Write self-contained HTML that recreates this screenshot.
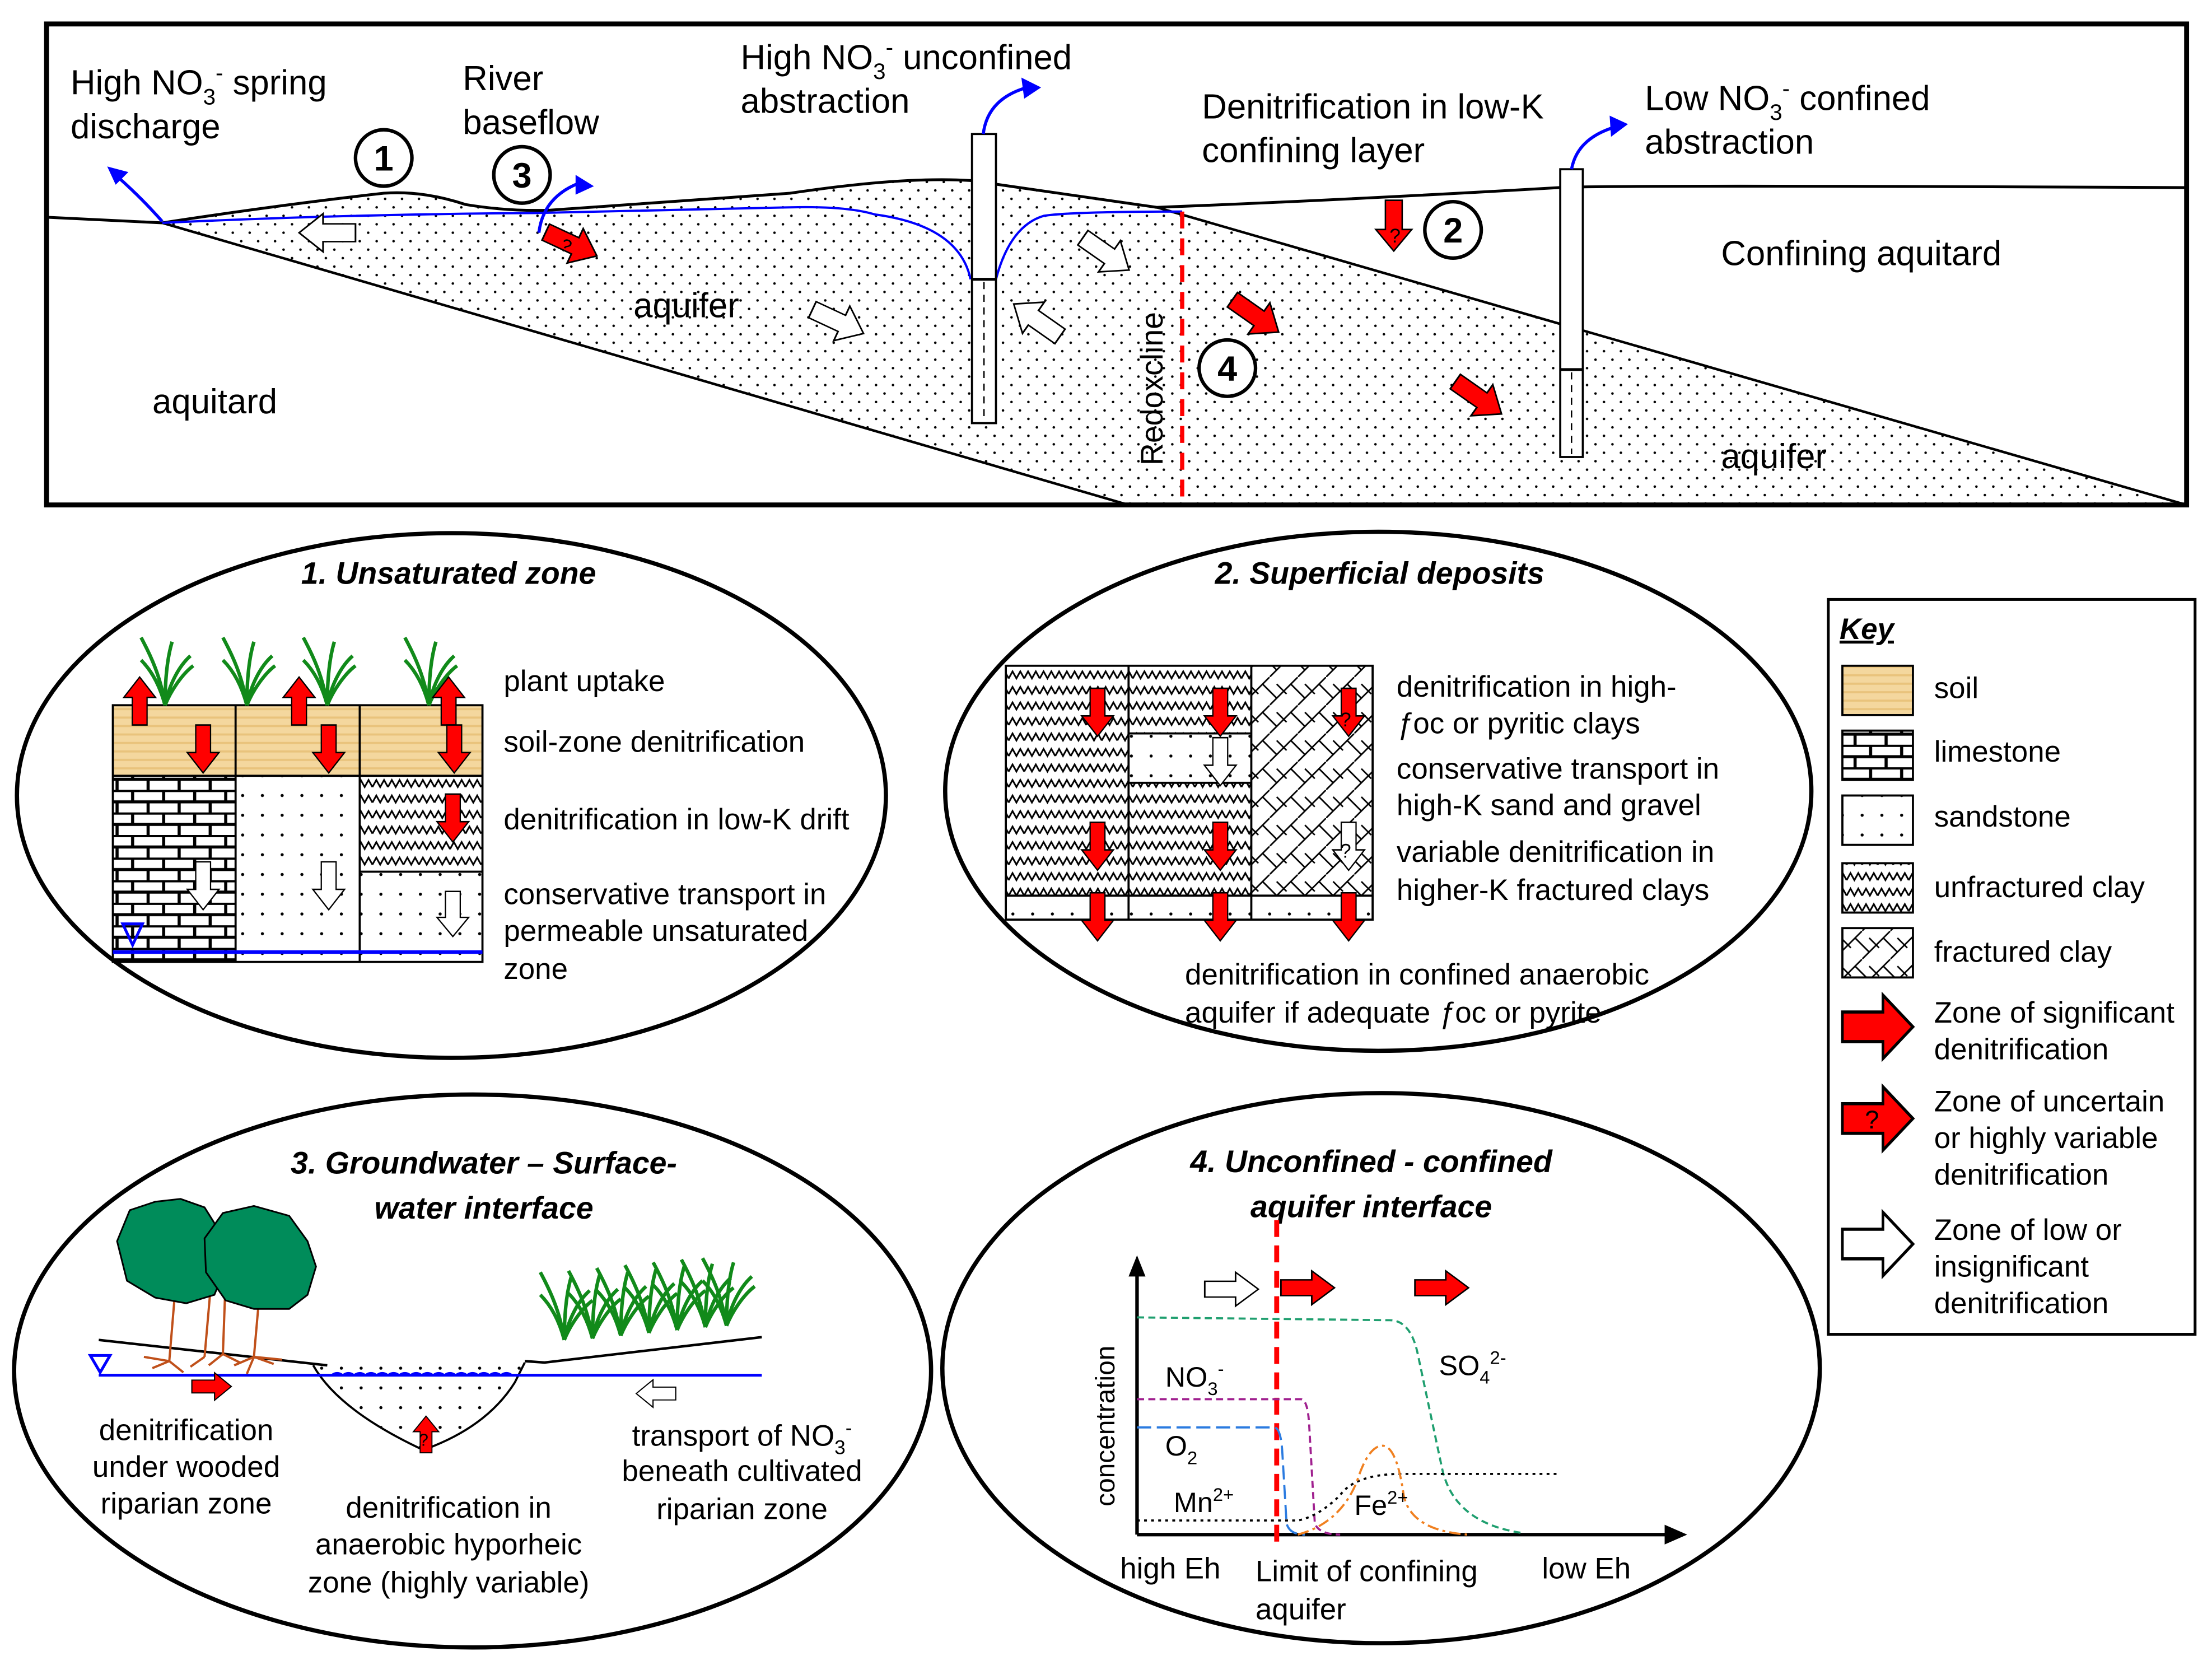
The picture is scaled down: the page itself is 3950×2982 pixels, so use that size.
<!DOCTYPE html>
<html><head><meta charset="utf-8">
<style>
html,body{margin:0;padding:0;background:#fff;}
svg{display:block;}
text{font-family:"Liberation Sans",Arial,sans-serif;fill:#000;}
</style></head><body>
<svg width="3950" height="2982" viewBox="0 0 1568 1184" preserveAspectRatio="none" xmlns="http://www.w3.org/2000/svg">
<defs>
<pattern id="dots" width="12" height="12" patternUnits="userSpaceOnUse"><rect width="12" height="12" fill="#fff"/><circle cx="3" cy="3" r="0.9" fill="#000"/><circle cx="9" cy="9" r="0.9" fill="#000"/></pattern>
<pattern id="dotsL" width="14" height="14" patternUnits="userSpaceOnUse"><rect width="14" height="14" fill="#fff"/><circle cx="4" cy="4" r="1.1" fill="#000"/></pattern>
<pattern id="brick" width="22" height="16" patternUnits="userSpaceOnUse"><rect width="22" height="16" fill="#fff"/><path d="M0,0.5H22M0,8.5H22M6,0V8M17,8V16" stroke="#000" stroke-width="2.2"/></pattern>
<pattern id="wave" width="11" height="11" patternUnits="userSpaceOnUse"><rect width="11" height="11" fill="#fff"/><path d="M0,8 L2.75,3 L5.5,8 L8.25,3 L11,8" fill="none" stroke="#000" stroke-width="1.2"/></pattern>
<pattern id="hatch" width="20" height="20" patternUnits="userSpaceOnUse"><rect width="20" height="20" fill="#fff"/><path d="M0,20 L20,0 M5,5 L12,12 M-5,5 L5,15 M15,5 L22,12" stroke="#000" stroke-width="1.1"/></pattern>
<pattern id="soil" width="10" height="6" patternUnits="userSpaceOnUse"><rect width="10" height="6" fill="#f4d79e"/><rect y="4" width="10" height="1.5" fill="#e9c37c"/></pattern>
<path id="ar" d="M-20,-7 H3 V-15 L20,0 L3,15 V7 H-20 Z"/>
<g id="grass" fill="none" stroke="#118a1a" stroke-width="2.5"><path d="M0,0 C-3,-20 -10,-35 -17,-48 M0,0 C0,-20 2,-35 5,-45 M0,0 C3,-15 10,-28 18,-35 M0,0 C-4,-15 -10,-25 -17,-32 M0,0 C4,-10 12,-22 20,-28"/></g>
</defs>
<rect width="1568" height="1184" fill="#fff"/>

<!-- TOP PANEL -->
<path d="M115,158 Q200,145 272,137 Q300,135 330,145 Q360,150 390,149 L560,137 Q640,125 688,128 L820,147 L1550,358 L800,358 Z" fill="url(#dots)"/>
<path d="M33,154 L115,158 Q200,145 272,137 Q300,135 330,145 Q360,150 390,149 L560,137 Q640,125 688,128 L820,147 Q950,142 1105,133 Q1140,131 1550,133" fill="none" stroke="#000" stroke-width="2"/>
<path d="M115,158 L800,358" stroke="#000" stroke-width="1.8"/>
<path d="M820,147 L1550,358" stroke="#000" stroke-width="1.8"/>
<path d="M115,158 Q240,152 380,151 L560,147 Q600,146 620,152 Q680,160 688,198" fill="none" stroke="#0000ff" stroke-width="1.6"/>
<path d="M706,198 Q716,160 740,153 Q760,150 838,150" fill="none" stroke="#0000ff" stroke-width="1.6"/>
<rect x="689" y="95" width="17" height="205" fill="#fff" stroke="#000" stroke-width="1.5"/>
<line x1="689" y1="198" x2="706" y2="198" stroke="#000" stroke-width="2"/>
<line x1="697.5" y1="200" x2="697.5" y2="298" stroke="#000" stroke-dasharray="5,4" stroke-width="1"/>
<rect x="1106" y="120" width="16" height="204" fill="#fff" stroke="#000" stroke-width="1.5"/>
<line x1="1106" y1="262" x2="1122" y2="262" stroke="#000" stroke-width="2"/>
<line x1="1114" y1="264" x2="1114" y2="322" stroke="#000" stroke-dasharray="5,4" stroke-width="1"/>
<g fill="none" stroke="#0000ff" stroke-width="2.2"><path d="M115,157 Q100,140 83,125"/><path d="M382,165 Q385,140 410,130"/><path d="M697,95 Q700,70 728,62"/><path d="M1114,120 Q1118,98 1145,90"/></g>
<g fill="#0000ff"><path d="M76,118 L91,122 L82,131 Z"/><path d="M421,132 L408,124 L408,138 Z"/><path d="M738,62 L724,55 L726,70 Z"/><path d="M1154,88 L1141,82 L1142,97 Z"/></g>
<line x1="838" y1="150" x2="838" y2="358" stroke="#ff0000" stroke-width="3" stroke-dasharray="12,7"/>
<text transform="translate(824,330) rotate(-90)" font-size="22">Redoxcline</text>
<g stroke="#000" stroke-width="1.2">
<use href="#ar" fill="#fff" transform="translate(232,165) rotate(180) scale(1,0.9)"/>
<use href="#ar" fill="#ff0000" transform="translate(405,173) rotate(25) scale(1,0.9)"/>
<use href="#ar" fill="#fff" transform="translate(594,228) rotate(25) scale(1,0.9)"/>
<use href="#ar" fill="#fff" transform="translate(735,227) rotate(-145) scale(1,0.9)"/>
<use href="#ar" fill="#fff" transform="translate(784,180) rotate(35) scale(1,0.9)"/>
<use href="#ar" fill="#ff0000" transform="translate(890,224) rotate(35) scale(1,0.9)"/>
<use href="#ar" fill="#ff0000" transform="translate(1048,282) rotate(35) scale(1,0.9)"/>
<use href="#ar" fill="#ff0000" transform="translate(988,160) rotate(90) scale(0.9,0.85)"/>
</g>
<text x="398" y="178" font-size="13" transform="rotate(25 400 173)">?</text>
<text x="985" y="172" font-size="14">?</text>
<g fill="#fff" stroke="#000" stroke-width="2.5"><circle cx="272" cy="112" r="20"/><circle cx="370" cy="124" r="20"/><circle cx="1030" cy="163" r="20"/><circle cx="870" cy="261" r="20"/></g>
<g font-size="25" font-weight="bold" text-anchor="middle"><text x="272" y="121">1</text><text x="370" y="133">3</text><text x="1030" y="172">2</text><text x="870" y="270">4</text></g>
<g font-size="24.5">
<text x="50" y="67">High NO<tspan font-size="16" dy="7">3</tspan><tspan font-size="16" dy="-17">-</tspan><tspan dy="10"> spring</tspan></text>
<text x="50" y="98">discharge</text>
<text x="328" y="64">River</text><text x="328" y="95">baseflow</text>
<text x="525" y="49">High NO<tspan font-size="16" dy="7">3</tspan><tspan font-size="16" dy="-17">-</tspan><tspan dy="10"> unconfined</tspan></text>
<text x="525" y="80">abstraction</text>
<text x="852" y="84">Denitrification in low-K</text><text x="852" y="115">confining layer</text>
<text x="1166" y="78">Low NO<tspan font-size="16" dy="7">3</tspan><tspan font-size="16" dy="-17">-</tspan><tspan dy="10"> confined</tspan></text>
<text x="1166" y="109">abstraction</text>
<text x="1220" y="188">Confining aquitard</text>
<text x="449" y="225">aquifer</text>
<text x="108" y="293">aquitard</text>
<text x="1220" y="332">aquifer</text>
</g>
<rect x="33" y="17" width="1517" height="341" fill="none" stroke="#000" stroke-width="3.5"/>

<!-- ELLIPSES -->
<g fill="none" stroke="#000" stroke-width="3"><ellipse cx="320" cy="564" rx="308" ry="186"/><ellipse cx="977" cy="561" rx="307" ry="184"/><ellipse cx="335" cy="972" rx="325" ry="196"/><ellipse cx="979" cy="970" rx="311" ry="195"/></g>
<g font-size="22" font-weight="bold" font-style="italic" text-anchor="middle">
<text x="318" y="414">1. Unsaturated zone</text>
<text x="978" y="414">2. Superficial deposits</text>
<text x="343" y="832">3. Groundwater – Surface-</text><text x="343" y="864">water interface</text>
<text x="972" y="831">4. Unconfined - confined</text><text x="972" y="863">aquifer interface</text>
</g>

<!-- PANEL 1 -->
<rect x="80" y="500" width="262" height="50" fill="url(#soil)"/>
<rect x="80" y="550" width="87" height="132" fill="url(#brick)"/>
<rect x="167" y="550" width="88" height="132" fill="url(#dotsL)"/>
<rect x="255" y="550" width="87" height="68" fill="url(#wave)"/>
<rect x="255" y="618" width="87" height="64" fill="url(#dotsL)"/>
<g fill="none" stroke="#000" stroke-width="1.5"><rect x="80" y="500" width="262" height="182"/><path d="M80,550H342M167,500V682M255,500V682M255,618H342"/></g>
<line x1="80" y1="675" x2="342" y2="675" stroke="#0000ff" stroke-width="2.5"/>
<path d="M87,655 L101,655 L94,670 Z" fill="none" stroke="#0000ff" stroke-width="2"/>
<use href="#grass" transform="translate(117,500)"/><use href="#grass" transform="translate(175,500)"/><use href="#grass" transform="translate(232,500)"/><use href="#grass" transform="translate(304,500)"/>
<g stroke="#000" stroke-width="1.2">
<use href="#ar" fill="#ff0000" transform="translate(99,497) rotate(-90) scale(0.85,0.75)"/>
<use href="#ar" fill="#ff0000" transform="translate(212,497) rotate(-90) scale(0.85,0.75)"/>
<use href="#ar" fill="#ff0000" transform="translate(318,497) rotate(-90) scale(0.85,0.75)"/>
<use href="#ar" fill="#ff0000" transform="translate(144,531) rotate(90) scale(0.85,0.75)"/>
<use href="#ar" fill="#ff0000" transform="translate(233,531) rotate(90) scale(0.85,0.75)"/>
<use href="#ar" fill="#ff0000" transform="translate(322,531) rotate(90) scale(0.85,0.75)"/>
<use href="#ar" fill="#ff0000" transform="translate(321,580) rotate(90) scale(0.85,0.75)"/>
<use href="#ar" fill="#fff" transform="translate(144,628) rotate(90) scale(0.85,0.75)"/>
<use href="#ar" fill="#fff" transform="translate(233,628) rotate(90) scale(0.85,0.75)"/>
<use href="#ar" fill="#fff" transform="translate(321,648) rotate(90) scale(0.8,0.75)"/>
</g>
<g font-size="21"><text x="357" y="490">plant uptake</text><text x="357" y="533">soil-zone denitrification</text><text x="357" y="588">denitrification in low-K drift</text><text x="357" y="641">conservative transport in</text><text x="357" y="667">permeable unsaturated</text><text x="357" y="694">zone</text></g>

<!-- PANEL 2 -->
<rect x="713" y="472" width="87" height="163" fill="url(#wave)"/>
<rect x="800" y="472" width="87" height="48" fill="url(#wave)"/>
<rect x="800" y="520" width="87" height="35" fill="url(#dotsL)"/>
<rect x="800" y="555" width="87" height="80" fill="url(#wave)"/>
<rect x="887" y="472" width="86" height="163" fill="url(#hatch)"/>
<rect x="713" y="635" width="260" height="17" fill="url(#dotsL)"/>
<g fill="none" stroke="#000" stroke-width="1.5"><rect x="713" y="472" width="260" height="180"/><path d="M800,472V652M887,472V652M713,635H973M800,520H887M800,555H887"/></g>
<g stroke="#000" stroke-width="1.2">
<use href="#ar" fill="#ff0000" transform="translate(778,505) rotate(90) scale(0.85,0.75)"/>
<use href="#ar" fill="#ff0000" transform="translate(865,505) rotate(90) scale(0.85,0.75)"/>
<use href="#ar" fill="#ff0000" transform="translate(956,505) rotate(90) scale(0.85,0.75)"/>
<use href="#ar" fill="#fff" transform="translate(865,540) rotate(90) scale(0.85,0.75)"/>
<use href="#ar" fill="#ff0000" transform="translate(778,600) rotate(90) scale(0.85,0.75)"/>
<use href="#ar" fill="#ff0000" transform="translate(865,600) rotate(90) scale(0.85,0.75)"/>
<use href="#ar" fill="#fff" transform="translate(956,600) rotate(90) scale(0.85,0.75)"/>
<use href="#ar" fill="#ff0000" transform="translate(778,650) rotate(90) scale(0.85,0.75)"/>
<use href="#ar" fill="#ff0000" transform="translate(865,650) rotate(90) scale(0.85,0.75)"/>
<use href="#ar" fill="#ff0000" transform="translate(956,650) rotate(90) scale(0.85,0.75)"/>
</g>
<text x="950" y="515" font-size="14">?</text><text x="950" y="608" font-size="14">?</text>
<g font-size="21"><text x="990" y="494">denitrification in high-</text><text x="990" y="520"><tspan font-style="italic">ƒ</tspan>oc or pyritic clays</text><text x="990" y="552">conservative transport in</text><text x="990" y="578">high-K sand and gravel</text><text x="990" y="611">variable denitrification in</text><text x="990" y="638">higher-K fractured clays</text><text x="840" y="698">denitrification in confined anaerobic</text><text x="840" y="725">aquifer if adequate <tspan font-style="italic">ƒ</tspan>oc or pyrite</text></g>

<!-- KEY -->
<rect x="1296" y="425" width="260" height="521" fill="#fff" stroke="#000" stroke-width="2"/>
<text x="1304" y="453" font-size="21" font-weight="bold" font-style="italic" text-decoration="underline">Key</text>
<rect x="1306" y="472" width="50" height="35" fill="url(#soil)" stroke="#000" stroke-width="1.5"/>
<rect x="1306" y="518" width="50" height="35" fill="url(#brick)" stroke="#000" stroke-width="1.5"/>
<rect x="1306" y="564" width="50" height="35" fill="url(#dotsL)" stroke="#000" stroke-width="1.5"/>
<rect x="1306" y="612" width="50" height="35" fill="url(#wave)" stroke="#000" stroke-width="1.5"/>
<rect x="1306" y="658" width="50" height="35" fill="url(#hatch)" stroke="#000" stroke-width="1.5"/>
<g stroke="#000" stroke-width="1.5">
<use href="#ar" fill="#ff0000" transform="translate(1331,728) scale(1.25,1.5)"/>
<use href="#ar" fill="#ff0000" transform="translate(1331,793) scale(1.25,1.5)"/>
<use href="#ar" fill="#fff" transform="translate(1331,882) scale(1.25,1.5)"/>
</g>
<text x="1322" y="800" font-size="18">?</text>
<g font-size="21"><text x="1371" y="495">soil</text><text x="1371" y="540">limestone</text><text x="1371" y="586">sandstone</text><text x="1371" y="636">unfractured clay</text><text x="1371" y="682">fractured clay</text><text x="1371" y="725">Zone of significant</text><text x="1371" y="751">denitrification</text><text x="1371" y="788">Zone of uncertain</text><text x="1371" y="814">or highly variable</text><text x="1371" y="840">denitrification</text><text x="1371" y="879">Zone of low or</text><text x="1371" y="905">insignificant</text><text x="1371" y="931">denitrification</text></g>

<!-- PANEL 3 -->
<path d="M222,968 Q240,1000 300,1028 Q345,1012 365,980 L372,966" fill="url(#dotsL)" stroke="#000" stroke-width="1.5"/>
<path d="M70,950 L232,968 M372,965 L386,966 L540,948" fill="none" stroke="#000" stroke-width="1.8"/>
<line x1="70" y1="975" x2="540" y2="975" stroke="#0000ff" stroke-width="2"/>
<path d="M235,975 q4,-3 8,0 q4,-3 8,0 q4,-3 8,0 q4,-3 8,0 q4,-3 8,0 q4,-3 8,0 q4,-3 8,0 q4,-3 8,0 q4,-3 8,0 q4,-3 8,0 q4,-3 8,0 q4,-3 8,0 q4,-3 8,0 q4,-3 8,0 q4,-3 8,0 q4,-3 8,0" fill="none" stroke="#0000ff" stroke-width="1.5"/>
<path d="M64,961 L78,961 L71,973 Z" fill="none" stroke="#0000ff" stroke-width="2"/>
<g fill="none" stroke="#c0501a" stroke-width="1.6"><path d="M125,905 L120,965 M120,965 l-12,5 M120,965 l10,8 M120,965 l-18,-3"/><path d="M160,905 L158,960 M158,960 l-10,8 M158,960 l12,6"/><path d="M150,905 L145,962 M145,962 l-10,7"/><path d="M185,905 L180,962 M180,962 l-14,6 M180,962 l14,5 M180,962 l20,2 M180,962 l-5,12"/></g>
<path d="M83,880 L92,858 L110,852 L128,850 L145,856 L155,872 L160,898 L152,918 L132,924 L110,920 L90,908 Z" fill="#008c5a" stroke="#000" stroke-width="1.2"/>
<path d="M145,878 L158,860 L180,855 L205,862 L218,880 L224,898 L218,918 L205,928 L180,928 L160,922 L146,902 Z" fill="#008c5a" stroke="#000" stroke-width="1.2"/>
<use href="#grass" transform="translate(400,950)"/><use href="#grass" transform="translate(420,949)"/><use href="#grass" transform="translate(440,947)"/><use href="#grass" transform="translate(460,945)"/><use href="#grass" transform="translate(480,943)"/><use href="#grass" transform="translate(500,941)"/><use href="#grass" transform="translate(515,940)"/>
<g stroke="#000" stroke-width="1.2">
<use href="#ar" fill="#ff0000" transform="translate(150,983) scale(0.7,0.65)"/>
<use href="#ar" fill="#ff0000" transform="translate(302,1017) rotate(-90) scale(0.65,0.6)"/>
<use href="#ar" fill="#fff" transform="translate(465,988) rotate(180) scale(0.7,0.65)"/>
</g>
<text x="297" y="1025" font-size="12">?</text>
<g font-size="21" text-anchor="middle"><text x="132" y="1021">denitrification</text><text x="132" y="1047">under wooded</text><text x="132" y="1073">riparian zone</text><text x="318" y="1076">denitrification in</text><text x="318" y="1102">anaerobic hyporheic</text><text x="318" y="1129">zone (highly variable)</text>
<text x="526" y="1025">transport of NO<tspan font-size="14" dy="6">3</tspan><tspan font-size="14" dy="-14">-</tspan></text><text x="526" y="1050">beneath cultivated</text><text x="526" y="1077">riparian zone</text></g>

<!-- PANEL 4 -->
<path d="M806,1088 L806,898" stroke="#000" stroke-width="2.5"/>
<path d="M800,905 L806,890 L812,905 Z" fill="#000"/>
<path d="M806,1088 L1185,1088" stroke="#000" stroke-width="2.5"/>
<path d="M1180,1081 L1196,1088 L1180,1095 Z" fill="#000"/>
<line x1="905" y1="865" x2="905" y2="1095" stroke="#ff0000" stroke-width="3.5" stroke-dasharray="12,6"/>
<g fill="none" stroke-width="1.5">
<path d="M806,934 L985,936 Q1000,936 1005,960 L1022,1040 Q1030,1080 1080,1087" stroke="#1f9f6f" stroke-dasharray="5,3"/>
<path d="M806,992 L922,992 Q927,992 928,1010 L932,1080 Q935,1088 950,1088" stroke="#a0208f" stroke-dasharray="5,3"/>
<path d="M806,1012 L903,1012 Q908,1012 909,1030 L912,1080 Q914,1088 925,1088" stroke="#2b7be0" stroke-dasharray="10,4"/>
<path d="M806,1078 L920,1078 Q935,1075 950,1060 Q960,1046 990,1045 L1105,1045" stroke="#000" stroke-dasharray="2,3"/>
<path d="M920,1088 Q950,1080 962,1050 Q970,1025 980,1025 Q990,1025 995,1060 Q1000,1085 1040,1088" stroke="#f08020" stroke-dasharray="8,3,2,3"/>
</g>
<g stroke="#000" stroke-width="1.2">
<use href="#ar" fill="#fff" transform="translate(873,914) scale(0.95,0.8)"/>
<use href="#ar" fill="#ff0000" transform="translate(927,913) scale(0.95,0.8)"/>
<use href="#ar" fill="#ff0000" transform="translate(1022,913) scale(0.95,0.8)"/>
</g>
<text transform="translate(790,1068) rotate(-90)" font-size="19">concentration</text>
<g font-size="20"><text x="1020" y="975">SO<tspan font-size="13" dy="6">4</tspan><tspan font-size="13" dy="-14">2-</tspan></text><text x="826" y="983">NO<tspan font-size="13" dy="6">3</tspan><tspan font-size="13" dy="-14">-</tspan></text><text x="826" y="1032">O<tspan font-size="13" dy="6">2</tspan></text><text x="832" y="1072">Mn<tspan font-size="13" dy="-8">2+</tspan></text><text x="960" y="1074">Fe<tspan font-size="13" dy="-8">2+</tspan></text></g>
<g font-size="21"><text x="794" y="1119">high Eh</text><text x="890" y="1121">Limit of confining</text><text x="890" y="1148">aquifer</text><text x="1093" y="1119">low Eh</text></g>
</svg>
</body></html>
